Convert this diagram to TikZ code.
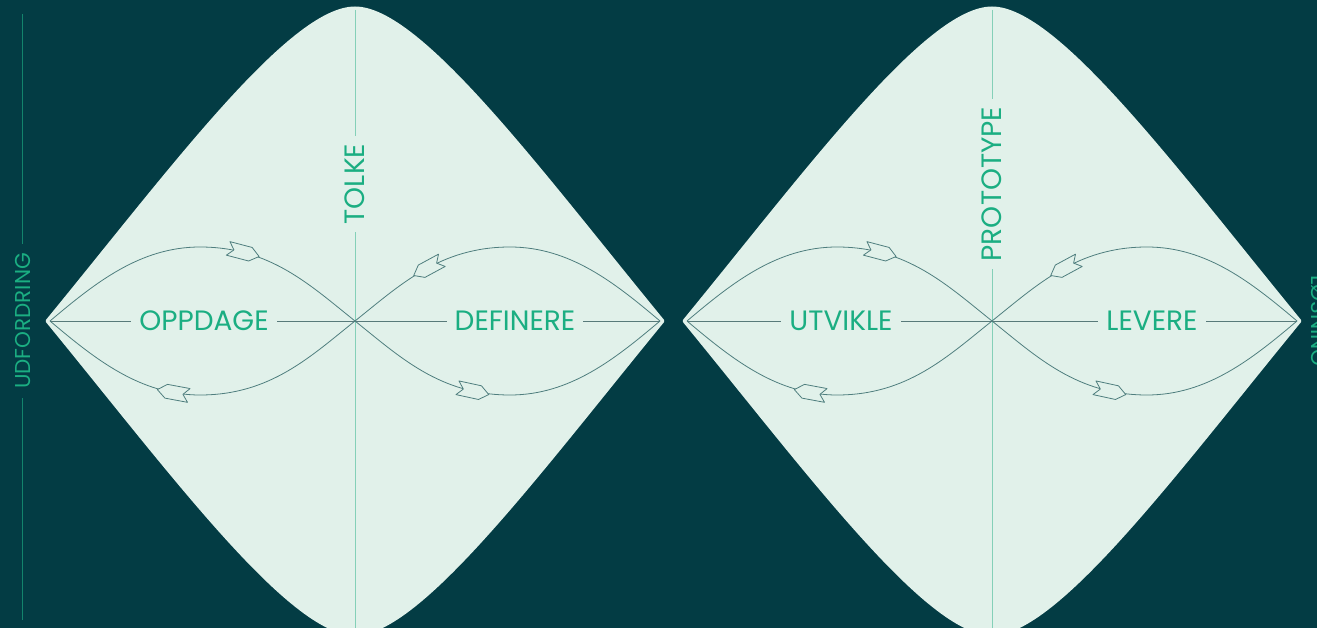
\documentclass[tikz,border=0pt]{standalone}
\usepackage{fontspec}
\setmainfont{Poppins}
\usetikzlibrary{decorations.markings}
\definecolor{bg}{HTML}{033C44}
\definecolor{mint}{HTML}{E1F1EA}
\definecolor{txt}{HTML}{1BAE82}
\definecolor{curvec}{HTML}{4F7E7E}
\definecolor{hlinec}{HTML}{587A7A}
\definecolor{vlinec}{HTML}{84D0B8}
\definecolor{sidec}{HTML}{13846C}
\tikzset{
  lobe/.style={draw=curvec, line width=0.8pt},
  dhline/.style={draw=hlinec, line width=0.8pt},
  dvline/.style={draw=vlinec, line width=0.9pt},
  mainlabel/.style={text=txt, font=\fontsize{28}{28}\selectfont, fill=mint, inner xsep=8pt, inner ysep=1pt},
  sidelabel/.style={text=txt, font=\fontsize{21.5}{21.5}\selectfont, fill=bg, inner xsep=9pt, inner ysep=1pt},
  tagarrow/.style={draw=curvec, fill=mint, line width=0.8pt, line join=round},
  arrowmark/.style={postaction={decorate}, decoration={markings, mark=at position #1 with {\draw[tagarrow] (16,0) -- (7,-7) -- (-16,-7) -- (-10,0) -- (-16,7) -- (7,7) -- cycle;}}},
}
\newcommand\ddiamond[5]{%
\begin{scope}[shift={(#1,321)}]
\fill[mint, draw=mint, line width=3pt, line join=round] (-308,0) .. controls (-185,-150) and (-65,-313) .. (0,-313) .. controls (65,-313) and (185,-150) .. (308,0) .. controls (185,150) and (65,313) .. (0,313) .. controls (-65,313) and (-185,150) .. (-308,0) -- cycle;
\coordinate (#2L) at (-305,0);
\coordinate (#2R) at (305,0);
\coordinate (#2C) at (0,0);
\coordinate (#2T) at (0,-311);
\coordinate (#2B) at (0,313);
\draw[dvline] (#2T) -- (#2B);
\draw[dhline] (#2L) -- (#2R);
\draw[lobe, arrowmark=0.62] (#2L) .. controls (-260,-38) and (-215,-74) .. (-155,-74) .. controls (-85,-74) and (-45,-36) .. (#2C);
\draw[lobe, arrowmark=0.585] (#2C) .. controls (-45,36) and (-85,74) .. (-155,74) .. controls (-215,74) and (-260,38) .. (#2L);
\draw[lobe, arrowmark=0.74] (#2R) .. controls (260,-38) and (215,-74) .. (155,-74) .. controls (85,-74) and (45,-36) .. (#2C);
\draw[lobe, arrowmark=0.40] (#2C) .. controls (45,36) and (85,74) .. (155,74) .. controls (215,74) and (260,38) .. (#2R);
\node[mainlabel] (#2l) at (-151,0) {#3};
\node[mainlabel] (#2r) at (160,0) {#4};
\node[mainlabel, rotate=90] (#2v) at (0,-137) {#5};
\end{scope}}
\begin{document}
\begin{tikzpicture}[x=1pt,y=-1pt]
\useasboundingbox (0,0) rectangle (1317,628);
\clip (0,0) rectangle (1317,628);
\fill[bg] (0,0) rectangle (1317,628);
\coordinate (sideT) at (22,14);
\coordinate (sideB) at (22,620);
\draw[draw=sidec, line width=1pt] (sideT) -- (sideB);
\node[sidelabel, rotate=90] (udf) at (23,321) {UDFORDRING};
\node[sidelabel, rotate=-90, anchor=base] (los) at (1311,321) {LØSNING};
\ddiamond{355}{a}{OPPDAGE}{DEFINERE}{TOLKE}
\ddiamond{992}{b}{UTVIKLE}{LEVERE}{PROTOTYPE}
\end{tikzpicture}
\end{document}
